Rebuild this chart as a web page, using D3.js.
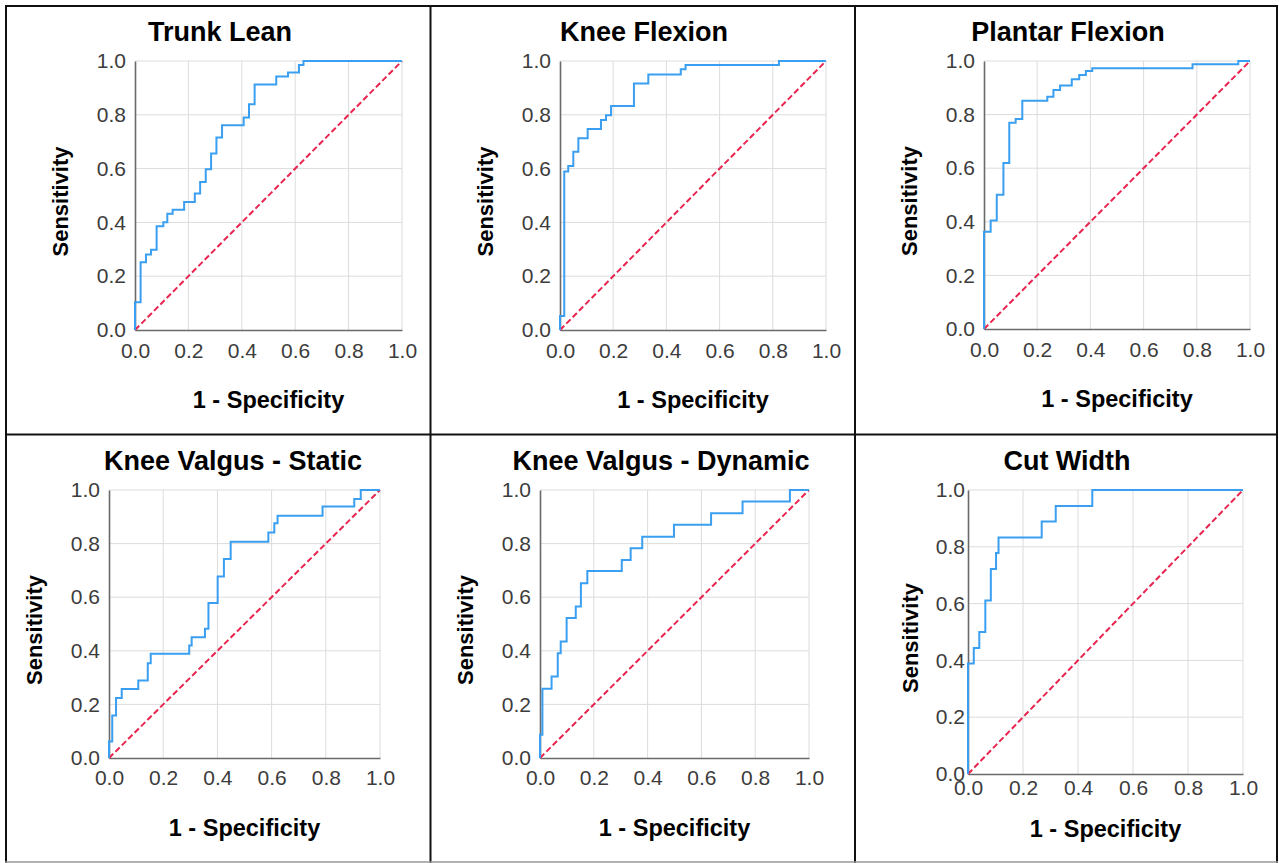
<!DOCTYPE html>
<html>
<head>
<meta charset="utf-8">
<script src="https://cdn.jsdelivr.net/npm/d3@7"></script>
<style>
  html, body { margin: 0; padding: 0; background: #ffffff; }
  svg { display: block; }
  text { font-family: "Liberation Sans", Arial, Helvetica, sans-serif; }
</style>
</head>
<body>
<svg id="chart" width="1279" height="863"></svg>
<script>
// ---------------- Data ----------------
const panelTitles = ["Trunk Lean", "Knee Flexion", "Plantar Flexion",
                     "Knee Valgus - Static", "Knee Valgus - Dynamic", "Cut Width"];
const tickValues = [0, 0.2, 0.4, 0.6, 0.8, 1.0];
const tickLabels = ["0.0", "0.2", "0.4", "0.6", "0.8", "1.0"];
const xAxisTitle = "1 - Specificity";
const yAxisTitle = "Sensitivity";
const referenceLine = [[0, 0], [1, 1]];

// ROC step vertices: at each FPR the curve rises to the matching TPR
const trunkLeanFPR = [0, 0, 0.021, 0.041, 0.060, 0.081, 0.106, 0.121, 0.141, 0.184, 0.224, 0.244, 0.265, 0.285, 0.305, 0.326, 0.407, 0.427, 0.448, 0.529, 0.573, 0.614, 0.631, 1.0];
const trunkLeanTPR = [0, 0.103, 0.252, 0.281, 0.298, 0.386, 0.401, 0.432, 0.447, 0.476, 0.507, 0.550, 0.598, 0.656, 0.716, 0.761, 0.790, 0.839, 0.913, 0.942, 0.957, 0.985, 1.0, 1.0];

const kneeFlexionFPR = [0, 0, 0.016, 0.031, 0.050, 0.069, 0.104, 0.154, 0.173, 0.192, 0.278, 0.332, 0.454, 0.472, 0.823, 1.0];
const kneeFlexionTPR = [0, 0.052, 0.589, 0.610, 0.663, 0.713, 0.747, 0.781, 0.798, 0.833, 0.916, 0.950, 0.969, 0.985, 1.0, 1.0];

const plantarFlexionFPR = [0, 0, 0.025, 0.048, 0.073, 0.095, 0.119, 0.144, 0.238, 0.261, 0.286, 0.330, 0.358, 0.383, 0.407, 0.784, 0.956, 1.0];
const plantarFlexionTPR = [0, 0.363, 0.405, 0.501, 0.619, 0.770, 0.784, 0.852, 0.867, 0.892, 0.909, 0.932, 0.948, 0.963, 0.973, 0.988, 1.0, 1.0];

const valgusStaticFPR = [0, 0, 0.012, 0.026, 0.047, 0.108, 0.143, 0.154, 0.296, 0.305, 0.354, 0.367, 0.401, 0.424, 0.449, 0.588, 0.610, 0.622, 0.788, 0.905, 0.929, 1.0];
const valgusStaticTPR = [0, 0.062, 0.159, 0.224, 0.257, 0.289, 0.354, 0.389, 0.420, 0.451, 0.482, 0.578, 0.677, 0.743, 0.807, 0.841, 0.876, 0.904, 0.938, 0.966, 1.0, 1.0];

const valgusDynamicFPR = [0, 0, 0.009, 0.043, 0.066, 0.077, 0.099, 0.133, 0.152, 0.176, 0.304, 0.337, 0.380, 0.498, 0.636, 0.753, 0.929, 1.0];
const valgusDynamicTPR = [0, 0.087, 0.258, 0.304, 0.391, 0.435, 0.522, 0.565, 0.652, 0.698, 0.739, 0.783, 0.826, 0.870, 0.913, 0.957, 1.0, 1.0];

const cutWidthFPR = [0, 0, 0.021, 0.041, 0.063, 0.083, 0.102, 0.111, 0.268, 0.319, 0.452, 1.0];
const cutWidthTPR = [0, 0.389, 0.444, 0.500, 0.611, 0.722, 0.778, 0.833, 0.889, 0.944, 1.0, 1.0];

const seriesFPR = [trunkLeanFPR, kneeFlexionFPR, plantarFlexionFPR, valgusStaticFPR, valgusDynamicFPR, cutWidthFPR];
const seriesTPR = [trunkLeanTPR, kneeFlexionTPR, plantarFlexionTPR, valgusStaticTPR, valgusDynamicTPR, cutWidthTPR];

// ---------------- Layout ----------------
const layouts = [
  {left: 135, right: 402, top: 61, bottom: 330, titleX: 220, titleY: 41, yLab: -67, xTick: 30, xLab: 78, yTickGap: 9},
  {left: 560, right: 826, top: 61, bottom: 330, titleX: 644, titleY: 41, yLab: -67, xTick: 30, xLab: 78, yTickGap: 9},
  {left: 984, right: 1250, top: 61, bottom: 329, titleX: 1068, titleY: 41, yLab: -67, xTick: 30, xLab: 78, yTickGap: 9},
  {left: 109, right: 380, top: 490, bottom: 758, titleX: 233, titleY: 470, yLab: -67, xTick: 29, xLab: 78, yTickGap: 9},
  {left: 540, right: 809, top: 490, bottom: 758, titleX: 661, titleY: 470, yLab: -67, xTick: 29, xLab: 78, yTickGap: 9},
  {left: 968, right: 1243, top: 490, bottom: 774, titleX: 1067, titleY: 470, yLab: -50, xTick: 23, xLab: 63, yTickGap: 3}
];

const svg = d3.select("#chart");
svg.append("rect").attr("width", 1279).attr("height", 863).attr("fill", "#fff");

const blue = "#3a9ff0";
const red = "#e8244f";

layouts.forEach((L, i) => {
  const g = svg.append("g");
  const x = d3.scaleLinear().domain([0, 1]).range([L.left, L.right]);
  const y = d3.scaleLinear().domain([0, 1]).range([L.bottom, L.top]);

  // gridlines
  g.append("g").selectAll("line.vg").data(tickValues.slice(1)).join("line")
    .attr("x1", d => x(d)).attr("x2", d => x(d))
    .attr("y1", y(0)).attr("y2", y(1))
    .attr("stroke", "#dcdcdc").attr("stroke-width", 1);
  g.append("g").selectAll("line.hg").data(tickValues.slice(1)).join("line")
    .attr("y1", d => y(d)).attr("y2", d => y(d))
    .attr("x1", x(0)).attr("x2", x(1))
    .attr("stroke", "#dcdcdc").attr("stroke-width", 1);

  // axes
  const xAxis = d3.axisBottom(x).tickValues(tickValues).tickFormat((d, k) => tickLabels[k]).tickSize(0).tickPadding(L.xTick - 17);
  const yAxis = d3.axisLeft(y).tickValues(tickValues).tickFormat((d, k) => tickLabels[k]).tickSize(0).tickPadding(L.yTickGap);
  const gx = g.append("g").attr("transform", `translate(0,${L.bottom})`).call(xAxis);
  const gy = g.append("g").attr("transform", `translate(${L.left},0)`).call(yAxis);
  [gx, gy].forEach(a => {
    a.select(".domain").attr("stroke", "#6a6a6a").attr("stroke-width", 1.6);
    a.selectAll("text").attr("font-size", 21).attr("fill", "#3c3c3c")
      .attr("font-family", "Liberation Sans, Arial, sans-serif");
  });

  // reference diagonal
  const line = d3.line().x(d => x(d[0])).y(d => y(d[1]));
  g.append("path").datum(referenceLine).attr("d", line)
    .attr("fill", "none").attr("stroke", red).attr("stroke-width", 2)
    .attr("stroke-dasharray", "6,3");

  // ROC curve
  const pts = seriesFPR[i].map((f, k) => [f, seriesTPR[i][k]]);
  const step = d3.line().x(d => x(d[0])).y(d => y(d[1])).curve(d3.curveStepAfter);
  g.append("path").datum(pts).attr("d", step)
    .attr("fill", "none").attr("stroke", blue).attr("stroke-width", 2);

  // titles
  g.append("text").attr("x", L.titleX).attr("y", L.titleY)
    .attr("text-anchor", "middle").attr("font-size", 27).attr("font-weight", "bold")
    .attr("fill", "#000").text(panelTitles[i]);
  g.append("text").attr("x", (L.left + L.right) / 2).attr("y", L.bottom + L.xLab)
    .attr("text-anchor", "middle").attr("font-size", 23.5).attr("font-weight", "bold")
    .attr("fill", "#000").text(xAxisTitle);
  const cy = (L.top + L.bottom) / 2 + 6;
  g.append("text").attr("transform", `translate(${L.left + L.yLab},${cy}) rotate(-90)`)
    .attr("text-anchor", "middle").attr("font-size", 22).attr("font-weight", "bold")
    .attr("fill", "#000").text(yAxisTitle);
});

// table borders
const borders = svg.append("g").attr("fill", "none").attr("stroke", "#111").attr("stroke-width", 2);
borders.append("line").attr("x1", 6).attr("x2", 6).attr("y1", 5).attr("y2", 863);
borders.append("line").attr("x1", 5).attr("x2", 1278).attr("y1", 6).attr("y2", 6);
borders.append("line").attr("x1", 1277).attr("x2", 1277).attr("y1", 5).attr("y2", 863);
borders.append("line").attr("x1", 430.5).attr("x2", 430.5).attr("y1", 6).attr("y2", 863);
borders.append("line").attr("x1", 855).attr("x2", 855).attr("y1", 6).attr("y2", 863);
borders.append("line").attr("x1", 5).attr("x2", 1278).attr("y1", 434.5).attr("y2", 434.5);
svg.append("line").attr("x1", 5).attr("x2", 1278).attr("y1", 862).attr("y2", 862)
  .attr("stroke", "#999").attr("stroke-width", 1.5);
</script>
</body>
</html>
